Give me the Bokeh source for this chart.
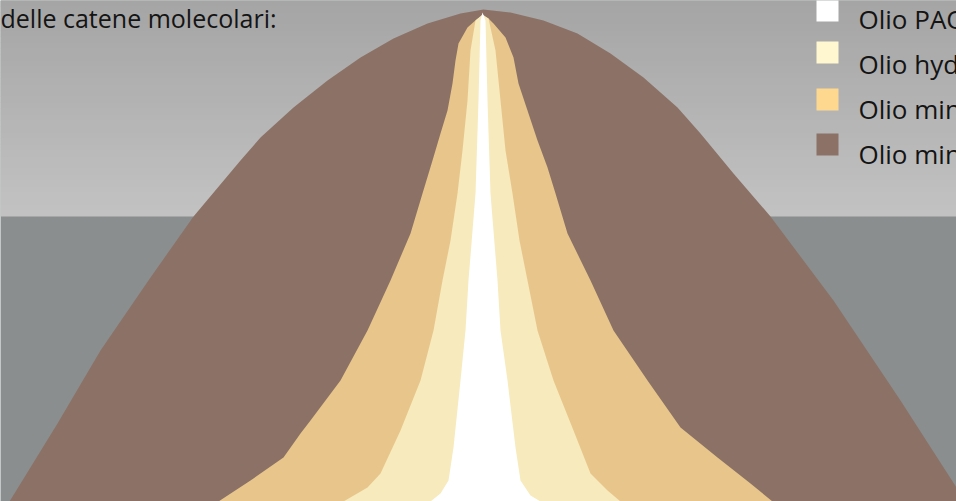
from bokeh.plotting import figure
from bokeh.embed import file_html
from bokeh.resources import INLINE
from bokeh.core.properties import value

# ---- data (x position along chain-length axis, curve height) ----
brown_x = [9, 57, 100, 150, 193, 240, 260, 293, 327, 360, 393, 427, 460, 483, 510, 543, 577, 610, 643, 677, 700, 733, 770, 833, 900, 956, 966]
brown_h = [0, 78, 151, 224, 285, 341, 364, 394, 421, 444, 463, 478, 488, 492, 489, 481, 468, 448, 424, 394, 368, 328, 285, 201, 101, 14, 0]

tan_x = [218, 250, 283, 300, 310, 340, 367, 390, 410, 422, 432, 440, 447, 452, 455, 458, 467, 476, 482, 488, 493, 505, 513, 518, 527, 537, 547, 555, 567, 590, 613, 647, 680, 717, 750, 772]
tan_h = [0, 21, 44, 68, 81, 121, 171, 221, 268, 308, 341, 368, 391, 418, 441, 458, 474, 482, 486, 483, 478, 464, 444, 418, 391, 361, 334, 308, 268, 221, 171, 121, 74, 44, 18, 0]

cream_x = [343, 367, 380, 400, 420, 433, 442, 450, 457, 462, 467, 470, 475, 482, 488, 495, 500, 505, 512, 519, 527, 537, 553, 573, 590, 607, 620]
cream_h = [0, 14, 28, 71, 121, 171, 221, 261, 308, 351, 401, 451, 481, 487, 483, 451, 401, 351, 308, 261, 221, 171, 121, 71, 28, 11, 0]

white_x = [430, 440, 448, 453, 460, 465, 468, 475, 478, 480, 482, 485, 487, 490, 497, 500, 507, 515, 520, 530, 540]
white_h = [0, 8, 21, 54, 121, 171, 221, 308, 401, 481, 489, 481, 401, 308, 221, 171, 121, 54, 21, 6, 0]

subtitle = "delle catene molecolari:"
legend_labels = ["Olio PAO", "Olio hydrocracking", "Olio minerale raffinato", "Olio minerale"]
legend_colors = ["#ffffff", "#fff7d0", "#fed88f", "#8c7266"]
fill_colors = ["#8c7266", "#e8c68b", "#f7eabd", "#ffffff"]

W, H = 956, 501

p = figure(width=W, height=H, x_range=(0, W), y_range=(0, H),
           output_backend="svg", toolbar_location=None, min_border=0)
p.axis.visible = False
p.grid.visible = False
p.outline_line_color = None
p.background_fill_color = "#8a8e8f"
p.border_fill_color = "#8a8e8f"

# upper light-grey gradient band
split = 285
nb = 36
step = (H - split) / nb
for i in range(nb):
    t = i / (nb - 1)
    g = int(round(194 - t * (194 - 165)))
    p.quad(left=0, right=W, bottom=split + i * step, top=split + (i + 1) * step + 0.5,
           color="#%02x%02x%02x" % (g, g, g), line_color=None)

# distributions
for xs, hs, c in [(brown_x, brown_h, fill_colors[0]), (tan_x, tan_h, fill_colors[1]),
                  (cream_x, cream_h, fill_colors[2]), (white_x, white_h, fill_colors[3])]:
    p.varea(x=xs, y1=[0] * len(xs), y2=hs, fill_color=c)

# subtitle (second line of a heading)
p.text(x=[0], y=[H - 17.5], text=[subtitle], text_font=value("Open Sans"),
       text_font_size="25px", text_color="#141414", text_baseline="alphabetic",
       text_align="left")

# legend
sq_y = [491, 449, 402, 357]
tx_y = [483, 438, 393, 348]
p.rect(x=[827] * 4, y=sq_y, width=22, height=22, fill_color=legend_colors, line_color=None)
p.text(x=[858] * 4, y=tx_y, text=legend_labels, text_font=value("Open Sans"),
       text_font_size="26px", text_color="#141414", text_baseline="alphabetic",
       text_align="left")

open("out.html", "w").write(file_html(p, INLINE))
